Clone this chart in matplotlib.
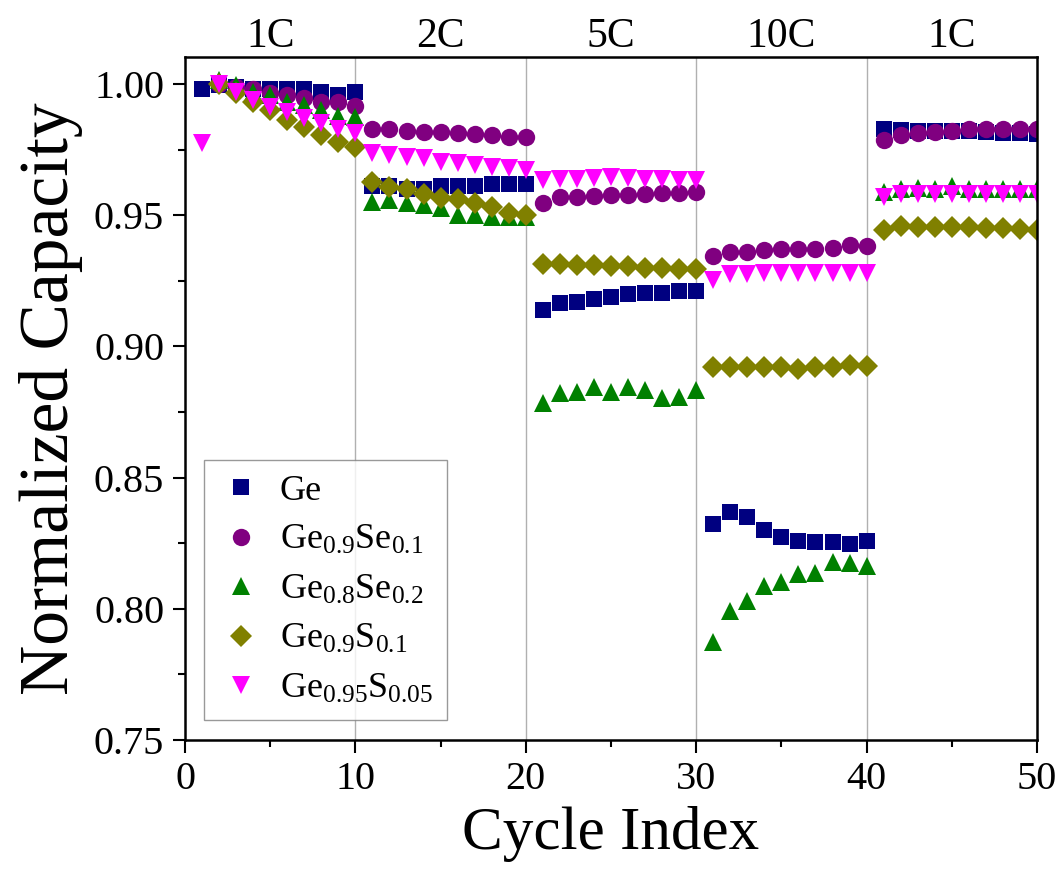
import numpy as np
import matplotlib
matplotlib.use("Agg")
import matplotlib.pyplot as plt
import matplotlib.transforms as mtransforms
from matplotlib.ticker import MultipleLocator

plt.rcParams["font.family"] = ["Liberation Serif", "DejaVu Serif"]
plt.rcParams["mathtext.default"] = "regular"

# cycle numbers 1..50
cycles = np.arange(1, 51)
nan = np.nan

ge = [0.998, 0.9995, 0.999, 0.998, 0.998, 0.998, 0.998, 0.997, 0.996, 0.997,
      0.961, 0.961, 0.960, 0.960, 0.961, 0.961, 0.961, 0.962, 0.962, 0.962,
      0.914, 0.9165, 0.917, 0.918, 0.9188, 0.920, 0.9203, 0.9203, 0.921, 0.921,
      0.8324, 0.837, 0.8348, 0.8299, 0.8273, 0.826, 0.8254, 0.8256, 0.8246, 0.8259,
      0.983, 0.9825, 0.9822, 0.982, 0.982, 0.982, 0.9818, 0.9815, 0.9815, 0.981]

ge09se01 = [nan, 1.000, 0.999, 0.998, 0.9967, 0.9958, 0.9945, 0.9933, 0.993, 0.9915,
            0.983, 0.9827, 0.9822, 0.9818, 0.9816, 0.9812, 0.9808, 0.9806, 0.980, 0.9797,
            0.9548, 0.957, 0.957, 0.9573, 0.9576, 0.9577, 0.958, 0.9583, 0.9586, 0.959,
            0.9345, 0.9361, 0.9361, 0.9368, 0.937, 0.9373, 0.9373, 0.9377, 0.9387, 0.9383,
            0.9787, 0.9806, 0.9815, 0.9818, 0.9822, 0.9827, 0.9827, 0.983, 0.983, 0.983]

ge08se02 = [nan, 1.0015, 0.9996, 0.997, 0.9958, 0.9933, 0.992, 0.990, 0.988, 0.9875,
            0.9551, 0.9558, 0.9545, 0.9539, 0.9526, 0.950, 0.950, 0.9494, 0.9494, 0.9494,
            0.8783, 0.8821, 0.8827, 0.8846, 0.8825, 0.8844, 0.8834, 0.8802, 0.8808, 0.8834,
            0.7875, 0.7993, 0.8031, 0.8087, 0.8104, 0.8132, 0.8138, 0.818, 0.8174, 0.8163,
            0.959, 0.960, 0.9605, 0.960, 0.961, 0.960, 0.960, 0.960, 0.960, 0.960]

ge09s01 = [nan, 1.000, 0.9964, 0.9933, 0.990, 0.9863, 0.9837, 0.9806, 0.978, 0.976,
           0.9628, 0.9609, 0.9599, 0.958, 0.9564, 0.956, 0.9548, 0.9533, 0.951, 0.950,
           0.9315, 0.9315, 0.931, 0.931, 0.9308, 0.9305, 0.930, 0.930, 0.9295, 0.9295,
           0.892, 0.892, 0.892, 0.892, 0.892, 0.8915, 0.892, 0.892, 0.893, 0.8925,
           0.9445, 0.9459, 0.9455, 0.9455, 0.9455, 0.9455, 0.9452, 0.945, 0.9448, 0.9445]

ge095s005 = [0.9774, 1.000, 0.997, 0.9939, 0.9914, 0.9895, 0.987, 0.985, 0.983, 0.9815,
             0.9736, 0.973, 0.9723, 0.9717, 0.9704, 0.9698, 0.9691, 0.9683, 0.9679, 0.9672,
             0.9635, 0.964, 0.964, 0.9642, 0.9645, 0.9642, 0.964, 0.9638, 0.9635, 0.9633,
             0.9255, 0.9275, 0.9275, 0.928, 0.928, 0.928, 0.928, 0.928, 0.928, 0.928,
             0.957, 0.958, 0.958, 0.958, 0.958, 0.958, 0.958, 0.958, 0.958, 0.958]

labels = ["Ge", r"$\mathregular{Ge_{0.9}Se_{0.1}}$", r"$\mathregular{Ge_{0.8}Se_{0.2}}$",
          r"$\mathregular{Ge_{0.9}S_{0.1}}$", r"$\mathregular{Ge_{0.95}S_{0.05}}$"]
rate_labels = ["1C", "2C", "5C", "10C", "1C"]
rate_centers = [5, 15, 25, 35, 45]

series = [ge, ge09se01, ge08se02, ge09s01, ge095s005]
colors = ["#000080", "#800080", "#008000", "#808000", "#ff00ff"]
markers = ["s", "o", "^", "D", "v"]
sizes = [11.5, 12.5, 13.5, 11, 13.5]

fig = plt.figure(figsize=(10.64, 8.8), dpi=100)
ax = fig.add_axes([0.1739, 0.1591, 0.8007, 0.7761])

# rate change separators
for xv in [10, 20, 30, 40]:
    ax.axvline(xv, color="#b0b0b0", lw=1.0, zorder=0)

for y, c, m, s, lab in zip(series, colors, markers, sizes, labels):
    ax.plot(cycles, y, linestyle="none", marker=m, color=c, markersize=s,
            markeredgewidth=0, label=lab)

ax.set_xlim(0, 50)
ax.set_ylim(0.75, 1.0103)
ax.xaxis.set_major_locator(MultipleLocator(10))
ax.xaxis.set_minor_locator(MultipleLocator(5))
ax.yaxis.set_major_locator(MultipleLocator(0.05))
ax.yaxis.set_minor_locator(MultipleLocator(0.025))
ax.yaxis.set_major_formatter(matplotlib.ticker.FormatStrFormatter("%.2f"))

ax.tick_params(which="major", direction="out", length=9, width=1.5,
               labelsize=29, top=False, right=False, pad=6)
ax.tick_params(which="minor", direction="out", length=5, width=1.5,
               top=False, right=False)
for sp in ax.spines.values():
    sp.set_linewidth(1.8)

ax.set_xlabel("Cycle Index", fontsize=44, labelpad=6)
ax.set_ylabel("Normalized Capacity", fontsize=50, labelpad=8)

trans = mtransforms.blended_transform_factory(ax.transData, ax.transAxes)
for xc, t in zip(rate_centers, rate_labels):
    ax.text(xc, 1.0146, t, transform=trans, ha="center", va="baseline", fontsize=30)

leg = ax.legend(loc="lower left", bbox_to_anchor=(0.022, 0.029), borderaxespad=0,
                fontsize=26, frameon=True, fancybox=False, handletextpad=0.45,
                labelspacing=0.45, borderpad=0.4, handlelength=1.25)
leg.get_frame().set_edgecolor("#808080")
leg.get_frame().set_linewidth(1.0)

fig.savefig("out.png", dpi=100)
